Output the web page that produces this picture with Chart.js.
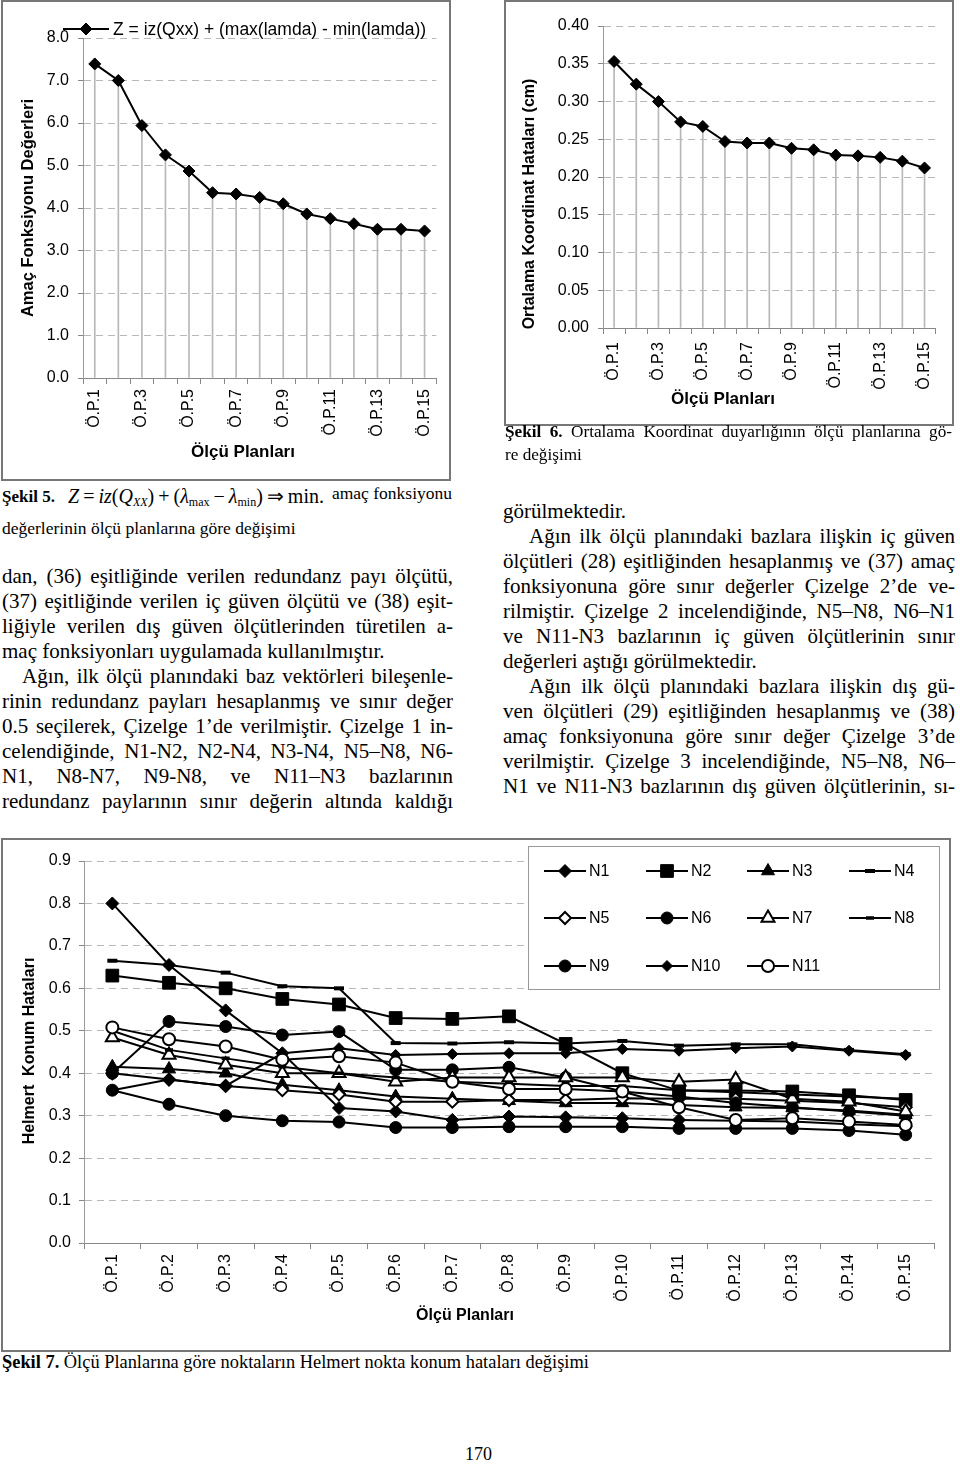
<!DOCTYPE html>
<html>
<head>
<meta charset="utf-8">
<script src="https://cdn.jsdelivr.net/npm/chart.js"></script>
<style>
body { margin: 0; background: #fff; width: 960px; height: 1465px; position: relative; overflow: hidden; font-family: "Liberation Serif", "Times New Roman", serif; color: #000; }
.box { position: absolute; border: 2px solid #777; box-sizing: border-box; }
.box canvas { display: block; }
.t { position: absolute; white-space: nowrap; line-height: 25px; }
.col { position: absolute; font-size: 21px; line-height: 25px; }
.ln { height: 25px; text-align: justify; text-align-last: justify; }
.ln.l { text-align: left; text-align-last: left; }
sub { font-size: 12px; vertical-align: -3px; line-height: 0; }
</style>
</head>
<body>

<div class="box" style="left:1px;top:0;width:450px;height:481px"><canvas id="amac" width="446" height="477"></canvas></div>
<div class="box" style="left:504px;top:0;width:450px;height:426px"><canvas id="koordinat" width="446" height="422"></canvas></div>
<div class="box" style="left:1px;top:838px;width:950px;height:514px"><canvas id="helmert" width="946" height="510"></canvas></div>

<div class="t" style="left:505px;top:419px;width:447px;font-size:17.2px;text-align:justify;text-align-last:justify"><b>Şekil 6.</b> Ortalama Koordinat duyarlığının ölçü planlarına gö-</div>
<div class="t" style="left:505px;top:442px;font-size:17.2px">re değişimi</div>

<div class="t" style="left:2px;top:484px;font-size:17px"><b>Şekil 5.</b></div>
<div class="t" style="left:68px;top:484px;font-size:20px"><i>Z</i>&thinsp;=&thinsp;<i>iz</i>(<i>Q</i><sub><i>XX</i></sub>)&thinsp;+&thinsp;(<i>λ</i><sub>max</sub>&thinsp;−&thinsp;<i>λ</i><sub>min</sub>)&thinsp;⇒&thinsp;min.</div>
<div class="t" style="right:508px;top:481px;font-size:17.5px">amaç fonksiyonu</div>
<div class="t" style="left:2px;top:516px;font-size:17.5px">değerlerinin ölçü planlarına göre değişimi</div>

<div class="col" style="left:2px;top:564px;width:451px">
<div class="ln">dan, (36) eşitliğinde verilen redundanz payı ölçütü,</div>
<div class="ln">(37) eşitliğinde verilen iç güven ölçütü ve (38) eşit-</div>
<div class="ln">liğiyle verilen dış güven ölçütlerinden türetilen a-</div>
<div class="ln l">maç fonksiyonları uygulamada kullanılmıştır.</div>
<div class="ln" style="padding-left:20px">Ağın, ilk ölçü planındaki baz vektörleri bileşenle-</div>
<div class="ln">rinin redundanz payları hesaplanmış ve sınır değer</div>
<div class="ln">0.5 seçilerek, Çizelge 1’de verilmiştir. Çizelge 1 in-</div>
<div class="ln">celendiğinde, N1-N2, N2-N4, N3-N4, N5–N8, N6-</div>
<div class="ln">N1, N8-N7, N9-N8, ve N11–N3 bazlarının</div>
<div class="ln">redundanz paylarının sınır değerin altında kaldığı</div>
</div>

<div class="col" style="left:503px;top:499px;width:452px">
<div class="ln l">görülmektedir.</div>
<div class="ln" style="padding-left:26px">Ağın ilk ölçü planındaki bazlara ilişkin iç güven</div>
<div class="ln">ölçütleri (28) eşitliğinden hesaplanmış ve (37) amaç</div>
<div class="ln">fonksiyonuna göre sınır değerler Çizelge 2’de ve-</div>
<div class="ln">rilmiştir. Çizelge 2 incelendiğinde, N5–N8, N6–N1</div>
<div class="ln">ve N11-N3 bazlarının iç güven ölçütlerinin sınır</div>
<div class="ln l">değerleri aştığı görülmektedir.</div>
<div class="ln" style="padding-left:26px">Ağın ilk ölçü planındaki bazlara ilişkin dış gü-</div>
<div class="ln">ven ölçütleri (29) eşitliğinden hesaplanmış ve (38)</div>
<div class="ln">amaç fonksiyonuna göre sınır değer Çizelge 3’de</div>
<div class="ln">verilmiştir. Çizelge 3 incelendiğinde, N5–N8, N6–</div>
<div class="ln">N1 ve N11-N3 bazlarının dış güven ölçütlerinin, sı-</div>
</div>

<div class="t" style="left:2px;top:1350px;font-size:18.4px"><b>Şekil 7.</b> Ölçü Planlarına göre noktaların Helmert nokta konum hataları değişimi</div>
<div class="t" style="left:465px;top:1442px;font-size:18px">170</div>

<script>
const planLabels = ["Ö.P.1", "Ö.P.2", "Ö.P.3", "Ö.P.4", "Ö.P.5", "Ö.P.6", "Ö.P.7", "Ö.P.8",
    "Ö.P.9", "Ö.P.10", "Ö.P.11", "Ö.P.12", "Ö.P.13", "Ö.P.14", "Ö.P.15"];

// Şekil 5 - amaç fonksiyonu değerleri
const amacValues = [7.39, 7.0, 5.94, 5.25, 4.87, 4.36, 4.33, 4.25, 4.10, 3.86, 3.75, 3.63, 3.50, 3.50, 3.46];

// Şekil 6 - ortalama koordinat hataları (cm)
const koordinatValues = [0.353, 0.323, 0.300, 0.273, 0.267, 0.247, 0.245, 0.245, 0.238, 0.236, 0.229, 0.228, 0.226, 0.221, 0.212];

// Şekil 7 - Helmert nokta konum hataları
const N1 = [0.80, 0.655, 0.548, 0.447, 0.318, 0.31, 0.29, 0.298, 0.296, 0.294, 0.29, 0.288, 0.286, 0.28, 0.275];
const N2 = [0.63, 0.613, 0.60, 0.575, 0.562, 0.53, 0.528, 0.534, 0.469, 0.40, 0.359, 0.359, 0.357, 0.348, 0.337];
const N3 = [0.415, 0.41, 0.40, 0.373, 0.36, 0.345, 0.34, 0.335, 0.33, 0.33, 0.325, 0.32, 0.318, 0.312, 0.302];
const N4 = [0.665, 0.655, 0.637, 0.605, 0.60, 0.471, 0.47, 0.473, 0.47, 0.476, 0.465, 0.468, 0.468, 0.455, 0.445];
const N5 = [0.40, 0.385, 0.37, 0.36, 0.35, 0.333, 0.333, 0.337, 0.337, 0.341, 0.34, 0.34, 0.335, 0.33, 0.32];
const N6 = [0.40, 0.522, 0.51, 0.49, 0.498, 0.408, 0.408, 0.414, 0.39, 0.357, 0.345, 0.33, 0.32, 0.31, 0.30];
const N7 = [0.484, 0.443, 0.42, 0.40, 0.40, 0.38, 0.39, 0.39, 0.39, 0.39, 0.38, 0.385, 0.34, 0.333, 0.31];
const N8 = [0.50, 0.455, 0.435, 0.415, 0.40, 0.39, 0.38, 0.375, 0.37, 0.37, 0.36, 0.355, 0.35, 0.345, 0.34];
const N9 = [0.36, 0.327, 0.30, 0.288, 0.285, 0.272, 0.272, 0.274, 0.274, 0.274, 0.27, 0.27, 0.27, 0.265, 0.255];
const N10 = [0.36, 0.385, 0.37, 0.447, 0.459, 0.443, 0.445, 0.447, 0.447, 0.457, 0.453, 0.459, 0.463, 0.453, 0.443];
const N11 = [0.508, 0.48, 0.463, 0.432, 0.44, 0.425, 0.38, 0.363, 0.363, 0.357, 0.32, 0.29, 0.294, 0.286, 0.278];

const sans = '"Liberation Sans", Arial, sans-serif';

const drawMarker = (ctx, ds, x, y) => {
    ctx.fillStyle = ds.pointBackgroundColor;
    ctx.strokeStyle = "#000";
    ctx.lineWidth = ds.pointBorderWidth;
    Chart.helpers.drawPoint(ctx, {
        pointStyle: ds.pointStyle,
        radius: ds.pointRadius,
        rotation: 0,
        borderWidth: ds.pointBorderWidth
    }, x, y);
};

// legend drawn on top of the plot, at fixed places (like the Excel one)
const boxLegend = {
    id: "boxLegend",
    afterDraw(chart, args, opts) {
        if (!opts.items) {
            return;
        }
        const ctx = chart.ctx;
        ctx.save();
        if (opts.box) {
            ctx.fillStyle = "#fff";
            ctx.strokeStyle = "#999";
            ctx.lineWidth = 1;
            ctx.fillRect(opts.box.x, opts.box.y, opts.box.w, opts.box.h);
            ctx.strokeRect(opts.box.x + 0.5, opts.box.y + 0.5, opts.box.w, opts.box.h);
        }
        opts.items.forEach((item) => {
            const ds = chart.data.datasets[item.index];
            ctx.strokeStyle = "#000";
            ctx.lineWidth = 2;
            ctx.beginPath();
            ctx.moveTo(item.x - opts.half, item.y);
            ctx.lineTo(item.x + opts.half, item.y);
            ctx.stroke();
            drawMarker(ctx, ds, item.x, item.y);
            ctx.fillStyle = "#000";
            ctx.font = opts.font;
            ctx.textAlign = "left";
            ctx.textBaseline = "middle";
            ctx.fillText(ds.label, item.x + opts.gap, item.y + 1);
        });
        ctx.restore();
    }
};

const freeText = {
    id: "freeText",
    afterDraw(chart, args, opts) {
        const ctx = chart.ctx;
        (opts.items || []).forEach((t) => {
            ctx.save();
            ctx.translate(t.x, t.y);
            ctx.rotate(t.rot || 0);
            ctx.font = t.font;
            ctx.fillStyle = "#000";
            ctx.textAlign = "center";
            ctx.textBaseline = "middle";
            ctx.fillText(t.text, 0, 0);
            ctx.restore();
        });
    }
};

const axes = (o) => ({
    x: {
        offset: true,
        grid: { drawOnChartArea: false, offset: true, tickLength: 6, tickColor: "#888" },
        border: { color: "#888" },
        ticks: {
            autoSkip: false,
            minRotation: 90,
            maxRotation: 90,
            padding: o.xPad,
            color: "#000",
            font: { family: sans, size: 16 },
            callback: (value, index) => (o.every === 2 && index % 2 === 1 ? "" : planLabels[index])
        },
        afterFit: (scale) => { scale.height = o.xH; }
    },
    y: {
        min: 0,
        max: o.max,
        grid: { color: "#b8b8b8", tickLength: 5, tickColor: "#888", tickBorderDash: [] },
        border: { color: "#999", dash: [7, 5] },
        ticks: {
            stepSize: o.step,
            padding: o.yPad,
            color: "#000",
            font: { family: sans, size: 16 },
            callback: (value) => value.toFixed(o.dec)
        },
        afterFit: (scale) => { scale.width = o.yW; }
    }
});

const diamondLine = (label, values) => ({
    label,
    data: values,
    borderColor: "#000",
    borderWidth: 2,
    pointStyle: "rectRot",
    pointRadius: 6,
    pointBorderWidth: 1,
    pointBackgroundColor: "#000",
    pointBorderColor: "#000",
    order: 0
});

const dropLines = (values) => ({
    type: "bar",
    data: values,
    backgroundColor: "#b8b8b8",
    barThickness: 1,
    order: 1
});

new Chart(document.getElementById("amac"), {
    type: "line",
    data: {
        labels: planLabels,
        datasets: [diamondLine("Z = iz(Qxx) + (max(lamda) - min(lamda))", amacValues), dropLines(amacValues)]
    },
    options: {
        responsive: false,
        animation: false,
        devicePixelRatio: 1,
        layout: { padding: { top: 36, right: 7, left: 0, bottom: 0 } },
        scales: axes({ max: 8, step: 1, dec: 1, yW: 80, xH: 101, xPad: 5, yPad: 9, every: 2 }),
        plugins: {
            legend: { display: false },
            tooltip: { enabled: false },
            boxLegend: { items: [{ index: 0, x: 83, y: 27 }], half: 23, gap: 27, font: "17.5px " + sans },
            freeText: {
                items: [
                    { text: "Amaç Fonksiyonu Değerleri", x: 25, y: 206, rot: -Math.PI / 2, font: "bold 16.5px " + sans },
                    { text: "Ölçü Planları", x: 240, y: 450, font: "bold 17px " + sans }
                ]
            }
        }
    },
    plugins: [boxLegend, freeText]
});

new Chart(document.getElementById("koordinat"), {
    type: "line",
    data: {
        labels: planLabels,
        datasets: [diamondLine("Ortalama Koordinat Hataları", koordinatValues), dropLines(koordinatValues)]
    },
    options: {
        responsive: false,
        animation: false,
        devicePixelRatio: 1,
        layout: { padding: { top: 24, right: 8, left: 0, bottom: 0 } },
        scales: axes({ max: 0.4, step: 0.05, dec: 2, yW: 97, xH: 96, xPad: 8, yPad: 9, every: 2 }),
        plugins: {
            legend: { display: false },
            tooltip: { enabled: false },
            freeText: {
                items: [
                    { text: "Ortalama Koordinat Hataları (cm)", x: 24, y: 202, rot: -Math.PI / 2, font: "bold 16px " + sans },
                    { text: "Ölçü Planları", x: 217, y: 397, font: "bold 17px " + sans }
                ]
            }
        }
    },
    plugins: [freeText]
});

const helmertSeries = [
    { label: "N1", data: N1, style: "rectRot", r: 6.5, fill: "#000", bw: 1 },
    { label: "N2", data: N2, style: "rect", r: 9, fill: "#000", bw: 1 },
    { label: "N3", data: N3, style: "triangle", r: 7.5, fill: "#000", bw: 1 },
    { label: "N4", data: N4, style: "line", r: 5, fill: "#000", bw: 4 },
    { label: "N5", data: N5, style: "rectRot", r: 6, fill: "#fff", bw: 2 },
    { label: "N6", data: N6, style: "circle", r: 6, fill: "#000", bw: 1 },
    { label: "N7", data: N7, style: "triangle", r: 7.5, fill: "#fff", bw: 2 },
    { label: "N8", data: N8, style: "line", r: 4, fill: "#000", bw: 3.5 },
    { label: "N9", data: N9, style: "circle", r: 6, fill: "#000", bw: 1 },
    { label: "N10", data: N10, style: "rectRot", r: 5.5, fill: "#000", bw: 1 },
    { label: "N11", data: N11, style: "circle", r: 6, fill: "#fff", bw: 2 }
];

const legendCols = [562, 664, 765, 867];
const legendRows = [31, 78, 126];

new Chart(document.getElementById("helmert"), {
    type: "line",
    data: {
        labels: planLabels,
        datasets: helmertSeries.map((s, i) => ({
            label: s.label,
            data: s.data,
            borderColor: "#000",
            borderWidth: 2,
            pointStyle: s.style,
            pointRadius: s.r,
            pointBorderWidth: s.bw,
            pointBackgroundColor: s.fill,
            pointBorderColor: "#000",
            order: helmertSeries.length - i
        }))
    },
    options: {
        responsive: false,
        animation: false,
        devicePixelRatio: 1,
        layout: { padding: { top: 21, right: 15, left: 0, bottom: 0 } },
        scales: axes({ max: 0.9, step: 0.1, dec: 1, yW: 81, xH: 107, xPad: 5, yPad: 8, every: 1 }),
        plugins: {
            legend: { display: false },
            tooltip: { enabled: false },
            boxLegend: {
                box: { x: 525, y: 6, w: 411, h: 143 },
                items: helmertSeries.map((s, i) => ({ index: i, x: legendCols[i % 4], y: legendRows[Math.floor(i / 4)] })),
                half: 21,
                gap: 24,
                font: "16px " + sans
            },
            freeText: {
                items: [
                    { text: "Helmert  Konum Hataları", x: 27, y: 211, rot: -Math.PI / 2, font: "bold 16px " + sans },
                    { text: "Ölçü Planları", x: 462, y: 476, font: "bold 16px " + sans }
                ]
            }
        }
    },
    plugins: [boxLegend, freeText]
});
</script>
</body>
</html>
